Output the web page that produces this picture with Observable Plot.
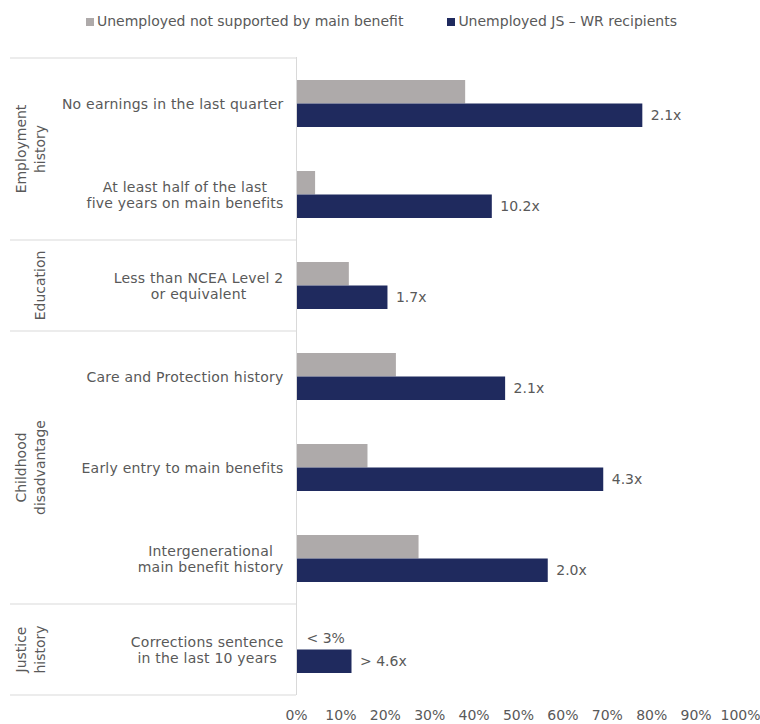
<!DOCTYPE html>
<html>
<head>
<meta charset="utf-8">
<script src="https://cdn.jsdelivr.net/npm/d3@7"></script>
<script src="https://cdn.jsdelivr.net/npm/@observablehq/plot@0.6"></script>
<style>
  body { margin: 0; background: #fff; font-family: "DejaVu Sans", Verdana, sans-serif; color: #595959; }
  #legend { height: 44px; box-sizing: border-box; padding: 13px 0 0 86px; display: flex; align-items: flex-start; font-size: 14px; line-height: 16px; white-space: nowrap; }
  #legend .item { display: flex; align-items: center; }
  #legend .item + .item { margin-left: 44px; }
  #legend .sw { width: 8px; height: 8px; margin-right: 3px; position: relative; top: 1px; }
</style>
</head>
<body>
<div id="legend"></div>
<div id="chart"></div>
<script>
// ---- data ----
const categories = [
  "No earnings in the last quarter",
  "At least half of the last\nfive years on main benefits",
  "Less than NCEA Level 2\nor equivalent",
  "Care and Protection history",
  "Early entry to main benefits",
  "Intergenerational\nmain benefit history",
  "Corrections sentence\nin the last 10 years"
];
const categoryGroups = [
  "Employment\nhistory",
  "Employment\nhistory",
  "Education",
  "Childhood\ndisadvantage",
  "Childhood\ndisadvantage",
  "Childhood\ndisadvantage",
  "Justice\nhistory"
];
const seriesNames = ["Unemployed not supported by main benefit", "Unemployed JS \u2013 WR recipients"];
const seriesColors = ["#AEAAAA", "#1F2A5E"];
const notSupportedShare = [0.381, 0.043, 0.119, 0.225, 0.161, 0.276, null];
const notSupportedLabels = [null, null, null, null, null, null, "< 3%"];
const jsWrShare = [0.780, 0.441, 0.206, 0.471, 0.692, 0.567, 0.125];
const ratioLabels = ["2.1x", "10.2x", "1.7x", "2.1x", "4.3x", "2.0x", "> 4.6x"];
const xTicks = [0, 0.1, 0.2, 0.3, 0.4, 0.5, 0.6, 0.7, 0.8, 0.9, 1];

// ---- table built from arrays ----
const rows = categories.map((c, i) => ({
  category: c,
  group: categoryGroups[i],
  notSupported: notSupportedShare[i],
  nsLabel: notSupportedLabels[i],
  jsWr: jsWrShare[i],
  ratio: ratioLabels[i]
}));

// ---- legend ----
const legend = d3.select("#legend");
seriesNames.forEach((name, i) => {
  const item = legend.append("div").attr("class", "item");
  item.append("div").attr("class", "sw").style("background", seriesColors[i]);
  item.append("span").text(name);
});

const lineColor = "#D9D9D9";

// group frame: separators + rotated group labels, positioned from the y scale
function groupFrame(index, scales, values, dimensions) {
  const y = scales.y;
  const bw = y.bandwidth();
  const g = d3.create("svg:g").attr("aria-label", "groups");
  const groupNames = Array.from(new Set(categoryGroups));
  const bounds = new Set();
  groupNames.forEach(name => {
    const cats = categories.filter((c, i) => categoryGroups[i] === name);
    const top = y(cats[0]);
    const bottom = y(cats[cats.length - 1]) + bw;
    bounds.add(top); bounds.add(bottom);
    const lines = name.split("\n");
    const t = g.append("text")
      .attr("transform", `translate(44.5,${(top + bottom) / 2}) rotate(-90)`)
      .attr("text-anchor", "middle")
      .attr("fill", "currentColor");
    lines.forEach((line, k) => {
      t.append("tspan").attr("x", 0).attr("y", -(lines.length - 1 - k) * 18.5).text(line);
    });
  });
  for (const b of bounds) {
    g.append("line")
      .attr("x1", 10).attr("x2", dimensions.marginLeft)
      .attr("y1", b).attr("y2", b)
      .attr("stroke", lineColor);
  }
  return g.node();
}

const plot = Plot.plot({
  width: 760,
  height: 680,
  marginTop: 13,
  marginBottom: 29,
  marginLeft: 296,
  marginRight: 20,
  style: { fontFamily: "'DejaVu Sans', Verdana, sans-serif", fontSize: "14px", color: "#595959", background: "#fff" },
  x: { domain: [0, 1] },
  y: { domain: categories, padding: 0, axis: null },
  color: { domain: seriesNames, range: seriesColors },
  marks: [
    Plot.axisX({ ticks: xTicks, tickFormat: d3.format(".0%"), tickSize: 0, tickPadding: 15, label: null }),
    Plot.barX(rows.filter(d => d.notSupported != null), {
      x: "notSupported", y: "category", fill: () => seriesNames[0], insetTop: 22, insetBottom: 45.6
    }),
    Plot.barX(rows, {
      x: "jsWr", y: "category", fill: () => seriesNames[1], insetTop: 45.5, insetBottom: 22
    }),
    Plot.ruleX([0], { stroke: lineColor }),
    Plot.text(rows, { x: "jsWr", y: "category", text: "ratio", textAnchor: "start", dx: 8, dy: 11.8 }),
    Plot.text(rows.filter(d => d.nsLabel), { y: "category", text: "nsLabel", frameAnchor: "left", textAnchor: "start", dx: 10, dy: -11.8 }),
    Plot.text(categories, {
      y: d => d, text: d => d, frameAnchor: "left", textAnchor: "end", dx: -13, dy: -0.5, lineHeight: 1.19
    }),
    groupFrame
  ]
});

document.getElementById("chart").appendChild(plot);

// category labels: slight letter spacing; center lines of multi-line labels (block stays right-aligned)
const catSet = new Set(categories.map(c => c.replace(/\n/g, "")));
d3.select(plot).selectAll("text").each(function () {
  if (this.closest('g[aria-label="groups"]')) return;
  if (!catSet.has(this.textContent)) return;
  this.style.letterSpacing = "0.22px";
  const tspans = Array.from(this.querySelectorAll("tspan"));
  if (tspans.length < 2) return;
  const w = d3.max(tspans, t => t.getComputedTextLength());
  this.setAttribute("text-anchor", "middle");
  tspans.forEach(t => { t.setAttribute("x", -w / 2); t.setAttribute("text-anchor", "middle"); });
});
</script>
</body>
</html>
